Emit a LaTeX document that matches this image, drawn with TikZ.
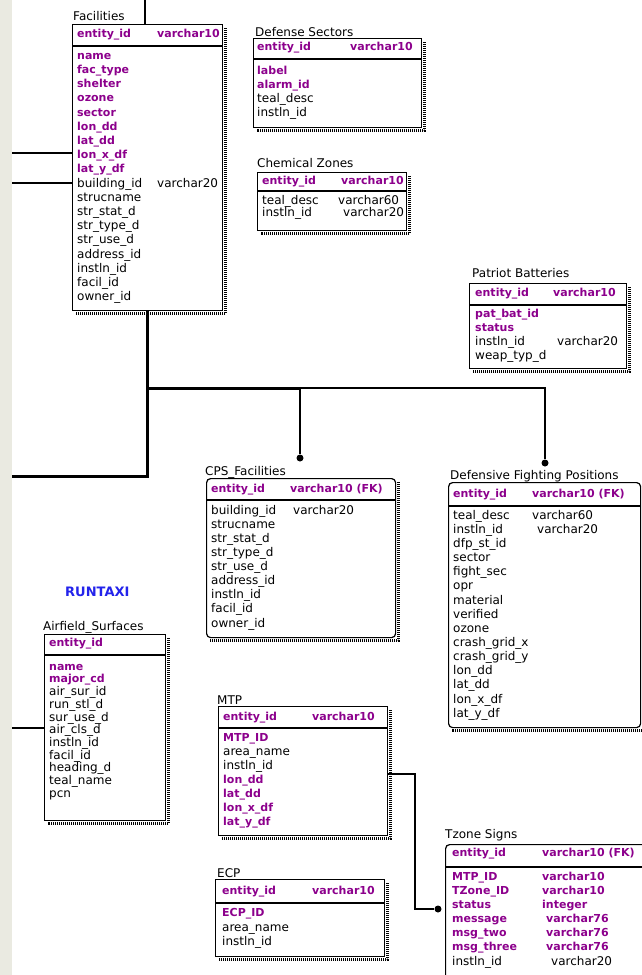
\documentclass[tikz,border=0pt]{standalone}
\usepackage{fontspec}
\setmainfont{DejaVu Sans}
\usetikzlibrary{positioning}
\definecolor{keypurple}{RGB}{140,0,140}
\definecolor{stripgray}{RGB}{234,234,225}
\definecolor{taxiblue}{RGB}{35,35,235}
\newcommand\dropshade[1]{\draw[shade] ([shift={(2.5,4)}]#1.north east) -- ([shift={(2.5,2.5)}]#1.south east) -- ([shift={(4,2.5)}]#1.south west);}
\tikzset{
	tbl/.style={draw, line width=1.2pt, anchor=north west, inner sep=0pt},
	dep/.style={tbl, rounded corners=4pt},
	sepline/.style={line width=1.1pt},
	shade/.style={line width=3pt, dash pattern=on 1pt off 1pt},
	title/.style={anchor=west, inner sep=0pt, font=\fontsize{12}{14}\selectfont},
	fld/.style={anchor=west, inner sep=0pt, text height=9pt, text depth=2.5pt, font=\fontsize{12}{14}\selectfont},
	key/.style={fld, text=keypurple, font=\fontsize{11}{14}\selectfont\bfseries},
	link/.style={line width=1.3pt},
	heavy/.style={line width=3pt},
	dot/.style={circle, fill, inner sep=0pt, minimum size=7pt},
}
\begin{document}
\begin{tikzpicture}[x=1pt,y=-1pt]
	\useasboundingbox (0,0) rectangle (642,975);
	\fill[stripgray] (0,0) rectangle (12,975);

	% Facilities
	\node[title] (facT) at (73,16) {Facilities};
	\node[tbl, minimum width=150pt, minimum height=286pt] (fac) at (72,24) {};
	\draw[sepline] ([yshift=-22pt]fac.north west) -- ([yshift=-22pt]fac.north east);
	\node[key] (facK) at (77,34) {entity\_id};
	\node[key] (facKT) at (157,34) {varchar10};
	\foreach \f [count=\i from 0] in {name,fac\_type,shelter,ozone,sector,lon\_dd,lat\_dd,lon\_x\_df,lat\_y\_df}
		\node[key] (facA\i) at (77,{56+14.2*\i}) {\f};
	\foreach \f [count=\i from 9] in {building\_id,strucname,str\_stat\_d,str\_type\_d,str\_use\_d,address\_id,instln\_id,facil\_id,owner\_id}
		\node[fld] (facA\i) at (77,{56+14.2*\i}) {\f};
	\node[fld] (facB9) at (157,{56+14.2*9}) {varchar20};
	\dropshade{fac}

	% Defense Sectors
	\node[title] (defT) at (255,32) {Defense Sectors};
	\node[tbl, minimum width=168pt, minimum height=89pt] (def) at (253,38) {};
	\draw[sepline] ([yshift=-21pt]def.north west) -- ([yshift=-21pt]def.north east);
	\node[key] (defK) at (257,47) {entity\_id};
	\node[key] (defKT) at (350,47) {varchar10};
	\foreach \f [count=\i from 0] in {label,alarm\_id}
		\node[key] (defA\i) at (257,{71+14*\i}) {\f};
	\foreach \f [count=\i from 2] in {teal\_desc,instln\_id}
		\node[fld] (defA\i) at (257,{71+14*\i}) {\f};
	\dropshade{def}

	% Chemical Zones
	\node[title] (chemT) at (257,163) {Chemical Zones};
	\node[tbl, minimum width=149pt, minimum height=58pt] (chem) at (257,172) {};
	\draw[sepline] ([yshift=-19pt]chem.north west) -- ([yshift=-19pt]chem.north east);
	\node[key] (chemK) at (262,181) {entity\_id};
	\node[key] (chemKT) at (341,181) {varchar10};
	\node[fld] (chemA0) at (262,201) {teal\_desc};
	\node[fld] (chemB0) at (338,201) {varchar60};
	\node[fld] (chemA1) at (262,213) {instln\_id};
	\node[fld] (chemB1) at (343,213) {varchar20};
	\dropshade{chem}

	% Patriot Batteries
	\node[title] (patT) at (472,273) {Patriot Batteries};
	\node[tbl, minimum width=157pt, minimum height=85pt] (pat) at (469,283) {};
	\draw[sepline] ([yshift=-22pt]pat.north west) -- ([yshift=-22pt]pat.north east);
	\node[key] (patK) at (475,293) {entity\_id};
	\node[key] (patKT) at (553,293) {varchar10};
	\foreach \f [count=\i from 0] in {pat\_bat\_id,status}
		\node[key] (patA\i) at (475,{314+14*\i}) {\f};
	\foreach \f [count=\i from 2] in {instln\_id,weap\_typ\_d}
		\node[fld] (patA\i) at (475,{314+14*\i}) {\f};
	\node[fld] (patB2) at (557,342) {varchar20};
	\dropshade{pat}

	% CPS_Facilities
	\node[title] (cpsT) at (205,472) {CPS\_Facilities};
	\node[dep, minimum width=189pt, minimum height=159pt] (cps) at (206,478) {};
	\draw[sepline] ([yshift=-22pt]cps.north west) -- ([yshift=-22pt]cps.north east);
	\node[key] (cpsK) at (211,489) {entity\_id};
	\node[key] (cpsKT) at (290,489) {varchar10 (FK)};
	\foreach \f [count=\i from 0] in {building\_id,strucname,str\_stat\_d,str\_type\_d,str\_use\_d,address\_id,instln\_id,facil\_id,owner\_id}
		\node[fld] (cpsA\i) at (211,{511+14.1*\i}) {\f};
	\node[fld] (cpsB0) at (293,511) {varchar20};
	\dropshade{cps}

	% Defensive Fighting Positions
	\node[title] (dfpT) at (450,476) {Defensive Fighting Positions};
	\node[dep, minimum width=192pt, minimum height=245pt] (dfp) at (448,482) {};
	\draw[sepline] ([yshift=-24pt]dfp.north west) -- ([yshift=-24pt]dfp.north east);
	\node[key] (dfpK) at (453,494) {entity\_id};
	\node[key] (dfpKT) at (532,494) {varchar10 (FK)};
	\foreach \f [count=\i from 0] in {teal\_desc,instln\_id,dfp\_st\_id,sector,fight\_sec,opr,material,verified,ozone,crash\_grid\_x,crash\_grid\_y,lon\_dd,lat\_dd,lon\_x\_df,lat\_y\_df}
		\node[fld] (dfpA\i) at (453,{516+14.14*\i}) {\f};
	\node[fld] (dfpB0) at (532,516) {varchar60};
	\node[fld] (dfpB1) at (537,530) {varchar20};
	\dropshade{dfp}

	% Airfield_Surfaces
	\node[key, text=taxiblue, font=\fontsize{13}{14}\selectfont\bfseries] (taxi) at (65,593) {RUNTAXI};
	\node[title] (airT) at (43,627) {Airfield\_Surfaces};
	\node[tbl, minimum width=121pt, minimum height=186pt] (air) at (44,634) {};
	\draw[sepline] ([yshift=-21pt]air.north west) -- ([yshift=-21pt]air.north east);
	\node[key] (airK) at (49,643) {entity\_id};
	\foreach \f [count=\i from 0] in {name,major\_cd}
		\node[key] (airA\i) at (49,{667+12.7*\i}) {\f};
	\foreach \f [count=\i from 2] in {air\_sur\_id,run\_stl\_d,sur\_use\_d,air\_cls\_d,instln\_id,facil\_id,heading\_d,teal\_name,pcn}
		\node[fld] (airA\i) at (49,{667+12.7*\i}) {\f};
	\dropshade{air}

	% MTP
	\node[title] (mtpT) at (217,700) {MTP};
	\node[tbl, minimum width=169pt, minimum height=129pt] (mtp) at (218,706) {};
	\draw[sepline] ([yshift=-22pt]mtp.north west) -- ([yshift=-22pt]mtp.north east);
	\node[key] (mtpK) at (223,717) {entity\_id};
	\node[key] (mtpKT) at (312,717) {varchar10};
	\node[key] (mtpA0) at (223,738) {MTP\_ID};
	\node[fld] (mtpA1) at (223,752) {area\_name};
	\node[fld] (mtpA2) at (223,766) {instln\_id};
	\foreach \f [count=\i from 3] in {lon\_dd,lat\_dd,lon\_x\_df,lat\_y\_df}
		\node[key] (mtpA\i) at (223,{738+14.1*\i}) {\f};
	\dropshade{mtp}

	% ECP
	\node[title] (ecpT) at (217,873) {ECP};
	\node[tbl, minimum width=169pt, minimum height=77pt] (ecp) at (215,879) {};
	\draw[sepline] ([yshift=-24pt]ecp.north west) -- ([yshift=-24pt]ecp.north east);
	\node[key] (ecpK) at (222,891) {entity\_id};
	\node[key] (ecpKT) at (312,891) {varchar10};
	\node[key] (ecpA0) at (222,913) {ECP\_ID};
	\node[fld] (ecpA1) at (222,928) {area\_name};
	\node[fld] (ecpA2) at (222,942) {instln\_id};
	\dropshade{ecp}

	% Tzone Signs
	\node[title] (tzT) at (445,835) {Tzone Signs};
	\node[dep, minimum width=205pt, minimum height=145pt] (tz) at (445,844) {};
	\draw[sepline] ([yshift=-23pt]tz.north west) -- ([yshift=-23pt]tz.north east);
	\node[key] (tzK) at (452,853) {entity\_id};
	\node[key] (tzKT) at (542,853) {varchar10 (FK)};
	\foreach \f/\t [count=\i from 0] in {MTP\_ID/varchar10,TZone\_ID/varchar10,status/integer}
		{\node[key] (tzA\i) at (452,{877+14.1*\i}) {\f};
		 \node[key] (tzB\i) at (542,{877+14.1*\i}) {\t};}
	\foreach \f/\t [count=\i from 3] in {message/varchar76,msg\_two/varchar76,msg\_three/varchar76}
		{\node[key] (tzA\i) at (452,{877+14.1*\i}) {\f};
		 \node[key] (tzB\i) at (546,{877+14.1*\i}) {\t};}
	\node[fld] (tzA6) at (452,962) {instln\_id};
	\node[fld] (tzB6) at (551,962) {varchar20};

	% connectors
	\coordinate (topend) at (145,0);
	\draw[link] (topend) -- (topend |- fac.north);
	\coordinate (facin1) at (12,153);
	\coordinate (facin2) at (12,183);
	\draw[link] (facin1) -- (facin1 -| fac.west);
	\draw[link] (facin2) -- (facin2 -| fac.west);
	\coordinate (hub) at (147,388);
	\coordinate (leftend) at (12,476);
	\draw[heavy] (fac.south) |- (leftend);
	\node[dot] (cpsdot) at (300,458) {};
	\node[dot] (dfpdot) at (545,463) {};
	\draw[heavy] (hub) -- (hub -| cpsdot);
	\draw[link] (hub -| cpsdot) -- (cpsdot);
	\draw[link] (hub -| cpsdot) -- (hub -| dfpdot) -- (dfpdot);
	\coordinate (airin) at (12,728);
	\draw[link] (airin) -- (airin -| air.west);
	\coordinate (mtpbend) at (415,774);
	\node[dot] (tzdot) at (438,909) {};
	\draw[link] (mtpbend -| mtp.east) -- (mtpbend) |- (tzdot);
\end{tikzpicture}
\end{document}
